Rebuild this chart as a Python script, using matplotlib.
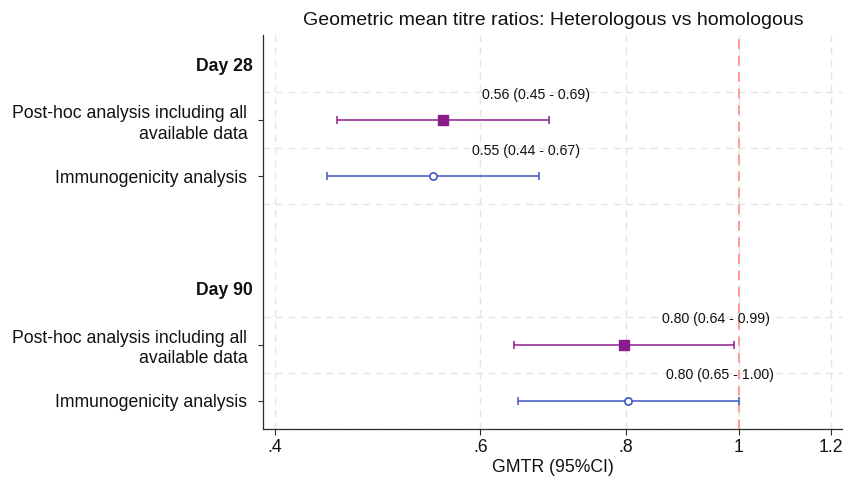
import matplotlib
matplotlib.use("Agg")
import matplotlib.pyplot as plt
from matplotlib.ticker import NullLocator

plt.rcParams["font.family"] = ["Liberation Sans", "DejaVu Sans"]

# data (GMTR with 95% CI)
groups = ["Day 28", "Day 90"]
analyses = ["Post-hoc analysis including all\navailable data", "Immunogenicity analysis"]
gmtr = [[0.558, 0.547], [0.797, 0.804]]
ci_low = [[0.452, 0.443], [0.641, 0.646]]
ci_high = [[0.687, 0.674], [0.990, 1.000]]
ci_text = [["0.56 (0.45 - 0.69)", "0.55 (0.44 - 0.67)"],
           ["0.80 (0.64 - 0.99)", "0.80 (0.65 - 1.00)"]]
x_ticks = [0.4, 0.6, 0.8, 1.0, 1.2]
x_tick_labels = [".4", ".6", ".8", "1", "1.2"]

COLORS = ["#8a1c8c", "#3d58c4"]
MARKER = [dict(marker="s", ms=6.5, mfc=COLORS[0], mec=COLORS[0]),
          dict(marker="o", ms=5.2, mfc="white", mec=COLORS[1], mew=1.2)]
GRID = "#e4e4e4"
REF = "#ff9d92"
TICK_LEN = 3.8
TICK_PAD = 7.5

fig = plt.figure(figsize=(8.43, 4.82), dpi=100)
ax = fig.add_axes([0.312, 0.110, 0.688, 0.8174])

# layout rows: header, analyses, blank line between groups
ypos, ylabels, headers, between = [], [], [], []
row = 0
for gi, g in enumerate(groups):
    ypos.append(row); ylabels.append(g); headers.append(len(ypos) - 1)
    for ai, a in enumerate(analyses):
        r = row + 1 + ai
        ypos.append(r); ylabels.append(a)
        between.extend([r - 0.5, r + 0.5])
        ax.errorbar(gmtr[gi][ai], r,
                    xerr=[[gmtr[gi][ai] - ci_low[gi][ai]], [ci_high[gi][ai] - gmtr[gi][ai]]],
                    fmt="none", ecolor=COLORS[ai], elinewidth=1.1, capsize=2.9,
                    capthick=1.1, zorder=3)
        ax.plot(gmtr[gi][ai], r, linestyle="none", zorder=4, **MARKER[ai])
        ax.annotate(ci_text[gi][ai], (gmtr[gi][ai], r), xytext=(27.5, 18.5),
                    textcoords="offset points", ha="left", va="center",
                    fontsize=10.2, color="#111111", zorder=5)
    row += len(analyses) + 2

ax.axvline(1, color=REF, linewidth=1.4, linestyle=(0, (5, 3.5)), zorder=2)

ax.set_xscale("log")
ax.set_xlim(0.3906, 1.229)
ax.set_xticks(x_ticks, x_tick_labels)
ax.xaxis.set_minor_locator(NullLocator())
ax.set_ylim(row - 2 - 0.48, -0.52)
ax.set_yticks(ypos, ylabels)
ax.set_yticks(sorted(set(between)), minor=True)

ax.grid(axis="x", which="major", color=GRID, linewidth=1.0, linestyle=(0, (5, 4)), zorder=0)
ax.grid(axis="y", which="minor", color=GRID, linewidth=1.0, linestyle=(0, (5, 4)), zorder=0)
ax.set_axisbelow(True)

for s in ("top", "right"):
    ax.spines[s].set_visible(False)
for s in ("left", "bottom"):
    ax.spines[s].set_color("#2b2b2b")
    ax.spines[s].set_linewidth(0.9)

ax.tick_params(axis="y", which="major", length=TICK_LEN, width=0.8, pad=TICK_PAD,
               labelsize=12.7, colors="#2b2b2b", labelcolor="#111111")
ax.tick_params(axis="y", which="minor", length=0)
ax.tick_params(axis="x", length=4.3, width=0.8, pad=3, labelsize=12.7,
               colors="#2b2b2b", labelcolor="#111111")
for i, t in enumerate(ax.yaxis.get_major_ticks()):
    t.label1.set_horizontalalignment("right")
    t.label1.set_linespacing(1.25)
    if i in headers:
        t.tick1line.set_visible(False)
        t.set_pad(TICK_PAD - 3.6)
        t.label1.set_fontweight("bold")

ax.set_xlabel("GMTR (95%CI)", fontsize=12.7, labelpad=2, color="#111111")
ax.set_title("Geometric mean titre ratios: Heterologous vs homologous",
             fontsize=14, pad=7.5, color="#111111")

fig.savefig("out.png", dpi=100, facecolor="white")
